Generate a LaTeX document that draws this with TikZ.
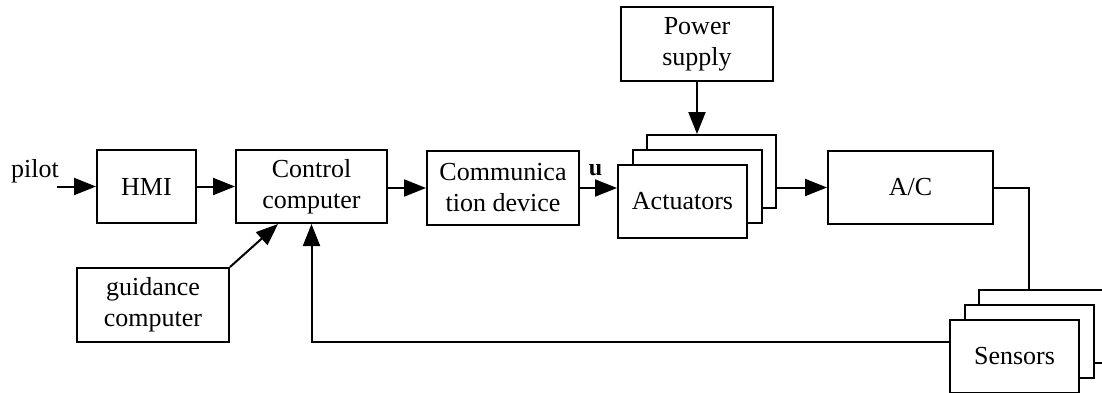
\documentclass[tikz,border=0pt]{standalone}
\usepackage{fontspec}
\setmainfont{Liberation Serif}
\usetikzlibrary{arrows.meta}
\begin{document}
\begin{tikzpicture}[x=1pt,y=-1pt,
  every node/.style={font=\fontsize{26}{31}\selectfont},
  blk/.style={draw,line width=2pt,fill=white,align=center,inner sep=0pt,
    minimum height=73pt},
  arr/.style={line width=2pt,-{Triangle[length=22pt,width=17pt]}},
  ln/.style={line width=2pt}]
\useasboundingbox (0,0) rectangle (1102,392);
\clip (0,0) rectangle (1102,392);

% main chain
\node[blk,minimum width=99pt] (hmi) at (146.5,186.5) {HMI};
\node[blk,minimum width=151pt] (ctrl) at (311.5,186.5) {Control\\computer};
\node[blk,minimum width=152pt,minimum height=74pt] (comm) at (503,188) {Communica\\tion device};
\node[blk,minimum width=165pt] (ac) at (910.5,187.5) {A/C};
\node[blk,minimum width=152pt,minimum height=74pt] (pwr) at (697,44) {Power\\supply};
\node[blk,minimum width=152pt,minimum height=74pt] (guide) at (153,305) {guidance\\computer};

% stacked actuators, back to front
\node[blk,minimum width=129pt] (act3) at (711.5,171.5) {};
\node[blk,minimum width=129pt] (act2) at (697,186.5) {};
\node[blk,minimum width=129pt] (act1) at (682.5,201.5) {Actuators};

% stacked sensors, back to front
\node[blk,minimum width=129pt] (sen3) at (1043.5,326.5) {};
\node[blk,minimum width=129pt] (sen2) at (1029,341.5) {};
\node[blk,minimum width=129pt] (sen1) at (1014.5,356.5) {Sensors};

% pilot input
\node[anchor=base west,inner sep=0pt] (pilot) at (11,177) {pilot};
\coordinate (pin) at (57,186.5);
\draw[arr] (pin) -- (hmi.west);

\draw[arr] (hmi.east) -- (ctrl.west);
\draw[arr] (ctrl.east |- comm.west) -- (comm.west);
\draw[arr] (comm.east) -- (comm.east -| act1.west)
  node[midway,above=8pt,xshift=-3pt,font=\fontsize{24}{24}\selectfont\bfseries] (u) {u};
\draw[arr] (act3.east |- ac.west) -- (ac.west);
\draw[arr] (pwr.south) -- (pwr.south |- act3.north);
\draw[arr] (guide.north east) -- ([xshift=-33.5pt]ctrl.south);

% aircraft to sensors, sensors back to the control computer
\coordinate (sdrop) at (1029,187.5);
\draw[ln] (ac.east) -- (sdrop) -- (sdrop |- sen3.north);
\draw[arr] ([yshift=14.5pt]sen1.west) -| (ctrl.south);
\end{tikzpicture}
\end{document}
